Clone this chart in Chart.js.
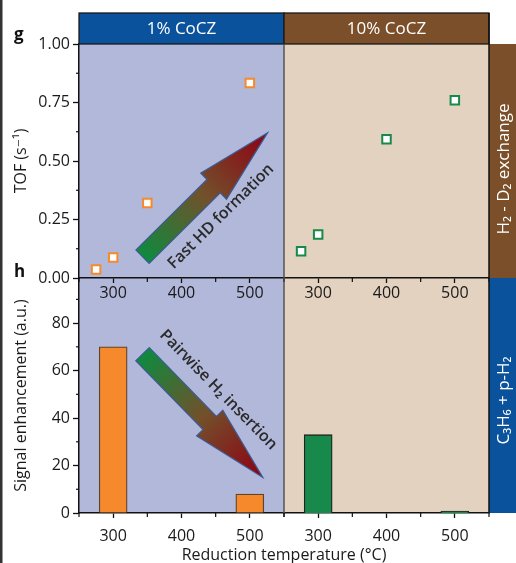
<!DOCTYPE html>
<html>
<head>
<meta charset="utf-8">
<script src="https://cdn.jsdelivr.net/npm/chart.js@4.4.1/dist/chart.umd.min.js"></script>
<style>
  html, body { margin: 0; padding: 0; background: #fff; }
  #wrap { position: relative; width: 516px; height: 563px; overflow: hidden; }
  canvas { position: absolute; }
</style>
</head>
<body>
<div id="wrap">
  <canvas id="hL" width="294" height="563" style="left:0;top:0"></canvas>
  <canvas id="hR" width="242" height="563" style="left:274px;top:0"></canvas>
  <canvas id="gL" width="294" height="300" style="left:0;top:0"></canvas>
  <canvas id="gR" width="242" height="300" style="left:274px;top:0"></canvas>
  <canvas id="deco" width="516" height="563" style="left:0;top:0"></canvas>
</div>
<script>
// ---- data ----
const panels = ['1% CoCZ', '10% CoCZ'];
const rowLabels = ['H\u2082 - D\u2082 exchange', 'C\u2083H\u2086 + p-H\u2082'];

// g: TOF vs reduction temperature
const tofTempsLow = [275, 300, 350, 500];
const tofLow = [0.036, 0.088, 0.321, 0.833];
const tofTempsHigh = [275, 300, 400, 500];
const tofHigh = [0.114, 0.186, 0.593, 0.76];

// h: signal enhancement
const barTemps = [300, 500];
const signalLow = [70, 8];
const signalHigh = [33, 0.8];

// ticks
const xTicks = [300, 400, 500];
const xMinor = [250, 350, 450, 550];
const tofTicks = [0, 0.25, 0.5, 0.75, 1.0];
const tofMinor = [0.125, 0.375, 0.625, 0.875];
const sigTicks = [0, 20, 40, 60, 80];
const sigMinor = [10, 30, 50, 70, 90];

const FONT = '"Open Sans", "DejaVu Sans", sans-serif';
const INK = '#1a1a1a';
const PURPLE = '#b1b8da', BEIGE = '#e2d2bf';
const BLUE = '#0b529c', BROWN = '#7a4f29';
const ORANGE = '#f5892c', GREEN = '#17894a';

/** plugins **/
const bgPlugin = {
  id: 'bg',
  beforeDraw(chart, args, opts) {
    const a = chart.chartArea, c = chart.ctx;
    c.save();
    c.fillStyle = opts.color;
    c.fillRect(a.left, a.top, a.right - a.left, a.bottom - a.top);
    c.restore();
  }
};

const minorPlugin = {
  id: 'minor',
  afterDraw(chart, args, opts) {
    const c = chart.ctx, a = chart.chartArea;
    c.save();
    c.strokeStyle = '#111';
    c.lineWidth = 1.2;
    (opts.x || []).forEach(v => {
      const px = chart.scales.x.getPixelForValue(v);
      c.beginPath(); c.moveTo(px, a.bottom); c.lineTo(px, a.bottom + 4); c.stroke();
    });
    if (chart.scales.y.options.display) {
      (opts.y || []).forEach(v => {
        const py = chart.scales.y.getPixelForValue(v);
        c.beginPath(); c.moveTo(a.left - 3, py); c.lineTo(a.left, py); c.stroke();
      });
    }
    c.restore();
  }
};

const arrowPlugin = {
  id: 'arrow',
  afterDatasetsDraw(chart, args, opts) {
    if (!opts.from) return;
    const xs = chart.scales.x, ys = chart.scales.y, c = chart.ctx;
    const tx = xs.getPixelForValue(opts.from[0]), ty = ys.getPixelForValue(opts.from[1]);
    const px = xs.getPixelForValue(opts.to[0]), py = ys.getPixelForValue(opts.to[1]);
    const L = Math.hypot(px - tx, py - ty);
    const ux = (px - tx) / L, uy = (py - ty) / L, nx = -uy, ny = ux;
    const hw = 9.4, hh = 18.3, hl = 76;
    const bx = px - ux * hl, by = py - uy * hl;
    const pts = [
      [tx + nx * hw, ty + ny * hw], [bx + nx * hw, by + ny * hw], [bx + nx * hh, by + ny * hh],
      [px, py],
      [bx - nx * hh, by - ny * hh], [bx - nx * hw, by - ny * hw], [tx - nx * hw, ty - ny * hw]
    ];
    const g = c.createLinearGradient(tx, ty, px, py);
    g.addColorStop(0, '#0e8a3e');
    g.addColorStop(0.5, '#72502b');
    g.addColorStop(1, '#8f0012');
    c.save();
    c.beginPath();
    pts.forEach((p, i) => i ? c.lineTo(p[0], p[1]) : c.moveTo(p[0], p[1]));
    c.closePath();
    c.fillStyle = g;
    c.fill();
    c.strokeStyle = '#3b5a94';
    c.lineWidth = 1.2;
    c.stroke();
    // label along the arrow
    c.translate(tx + ux * opts.along + nx * opts.off, ty + uy * opts.along + ny * opts.off);
    c.rotate(Math.atan2(uy, ux));
    c.font = '600 16px ' + FONT;
    c.fillStyle = '#2a2a2a';
    c.textAlign = 'center';
    c.textBaseline = 'middle';
    c.fillText(opts.label, 0, 0);
    c.restore();
  }
};

/** options builder **/
function panelOptions(cfg) {
  return {
    responsive: false,
    animation: false,
    devicePixelRatio: 1,
    layout: { padding: cfg.pad },
    plugins: {
      legend: { display: false },
      tooltip: { enabled: false },
      bg: { color: cfg.bg },
      minor: { x: xMinor, y: cfg.yMinor },
      arrow: cfg.arrow || {}
    },
    scales: {
      x: {
        type: 'linear', min: 250, max: 550, offset: false,
        afterBuildTicks: s => { s.ticks = xTicks.map(v => ({ value: v })); },
        afterFit: s => { s.height = cfg.xh; s.paddingLeft = 0; s.paddingRight = 0; },
        grid: { drawOnChartArea: false, offset: false, tickLength: 5, tickColor: '#111', tickWidth: 1.3 },
        border: { color: '#111', width: 1.5 },
        ticks: { color: INK, font: { family: FONT, size: 16 }, padding: cfg.xpad, maxRotation: 0, autoSkip: false }
      },
      y: {
        display: cfg.showY,
        min: 0, max: cfg.yMax,
        afterBuildTicks: s => { s.ticks = cfg.yTicks.map(v => ({ value: v })); },
        afterFit: s => {
          s.width = cfg.showY ? 79 : 0;
          s.paddingTop = 0; s.paddingBottom = 0;
        },
        grid: { drawOnChartArea: false, tickLength: 6, tickColor: '#111', tickWidth: 1.3 },
        border: { color: '#111', width: 1.5 },
        ticks: { color: INK, font: { family: FONT, size: 16 }, padding: 3, callback: cfg.fmt },
        title: { display: !!cfg.yTitle, text: cfg.yTitle, color: INK, font: { family: FONT, size: 16 }, padding: { top: 12, bottom: 0 } }
      }
    }
  };
}

const pts = (xs, ys) => xs.map((x, i) => ({ x: x, y: ys[i] }));
const tofFmt = v => v.toFixed(2);
const plugins = [bgPlugin, minorPlugin, arrowPlugin];

function scatterSet(xs, ys, color) {
  return {
    data: pts(xs, ys), showLine: false, pointStyle: 'rect', pointRadius: 6,
    pointBorderWidth: 2, pointBorderColor: color, pointBackgroundColor: '#fff'
  };
}
function barSet(xs, ys, color, edge) {
  return {
    data: pts(xs, ys), backgroundColor: color, borderColor: edge,
    borderWidth: 1.3, borderSkipped: 'start', barThickness: 28
  };
}

// left canvases are 10px wider than the panel so the library's
// minimum (point-size) padding on the right does not shrink the plot
new Chart(document.getElementById('gL'), {
  type: 'scatter',
  data: { datasets: [scatterSet(tofTempsLow, tofLow, ORANGE)] },
  options: panelOptions({
    pad: { top: 44, left: 0, right: 10, bottom: 0 }, xh: 22, xpad: 1, bg: PURPLE,
    showY: true, yMax: 1, yTicks: tofTicks, yMinor: tofMinor, fmt: tofFmt, yTitle: 'TOF (s\u207B\u00B9)',
    arrow: { from: [343, 0.091], to: [526, 0.621], along: 84, off: 26.6, label: 'Fast HD formation' }
  }),
  plugins: plugins
});

new Chart(document.getElementById('gR'), {
  type: 'scatter',
  data: { datasets: [scatterSet(tofTempsHigh, tofHigh, GREEN)] },
  options: panelOptions({
    pad: { top: 44, left: 10, right: 27, bottom: 0 }, xh: 22, xpad: 1, bg: BEIGE,
    showY: false, yMax: 1, yTicks: tofTicks, yMinor: tofMinor, fmt: tofFmt
  }),
  plugins: plugins
});

new Chart(document.getElementById('hL'), {
  type: 'bar',
  data: { datasets: [barSet(barTemps, signalLow, ORANGE, '#5e4430')] },
  options: panelOptions({
    pad: { top: 278, left: 0, right: 10, bottom: 0 }, xh: 50, xpad: 9, bg: PURPLE,
    showY: true, yMax: 99, yTicks: sigTicks, yMinor: sigMinor, yTitle: 'Signal enhancement (a.u.)',
    arrow: { from: [343, 66.9], to: [519, 15.0], along: 78.5, off: -29.3, label: 'Pairwise H\u2082 insertion' }
  }),
  plugins: plugins
});

new Chart(document.getElementById('hR'), {
  type: 'bar',
  data: { datasets: [barSet(barTemps, signalHigh, GREEN, '#222')] },
  options: panelOptions({
    pad: { top: 278, left: 10, right: 27, bottom: 0 }, xh: 50, xpad: 9, bg: BEIGE,
    showY: false, yMax: 99, yTicks: sigTicks, yMinor: sigMinor
  }),
  plugins: plugins
});

/** frame decoration: headers, side strips, dividers, labels **/
const d = document.getElementById('deco').getContext('2d');
d.fillStyle = '#333';
d.fillRect(0, 0, 2.5, 563);

[[79, BLUE], [284, BROWN]].forEach(([x, col], i) => {
  d.fillStyle = col;
  d.fillRect(x, 13, 205, 31);
  d.strokeStyle = '#1a1a1a';
  d.lineWidth = 1.3;
  d.strokeRect(x, 13, 205, 31);
  d.fillStyle = '#fff';
  d.font = '17px ' + FONT;
  d.textAlign = 'center';
  d.textBaseline = 'middle';
  d.fillText(panels[i], x + 102.5, 29);
});

[[44, 278, BROWN], [278, 513, BLUE]].forEach(([y0, y1, col], i) => {
  d.fillStyle = col;
  d.fillRect(489, y0, 27, y1 - y0);
  d.save();
  d.translate(504, (y0 + y1) / 2 + (i ? 5 : 8));
  d.rotate(-Math.PI / 2);
  d.fillStyle = '#fff';
  d.font = '17px ' + FONT;
  d.textAlign = 'center';
  d.textBaseline = 'middle';
  d.fillText(rowLabels[i], 0, 0);
  d.restore();
});

d.strokeStyle = '#555';
d.lineWidth = 1.5;
d.beginPath(); d.moveTo(284, 44); d.lineTo(284, 513); d.stroke();
d.strokeStyle = '#111';
d.beginPath(); d.moveTo(489, 13); d.lineTo(489, 513); d.stroke();

d.fillStyle = '#111';
d.font = 'bold 17px ' + FONT;
d.textAlign = 'left';
d.textBaseline = 'alphabetic';
d.fillText('g', 14, 40);
d.fillText('h', 14, 277);

d.fillStyle = INK;
d.font = '16px ' + FONT;
d.textAlign = 'center';
d.fillText('Reduction temperature (\u00B0C)', 284, 560);
</script>
</body>
</html>
